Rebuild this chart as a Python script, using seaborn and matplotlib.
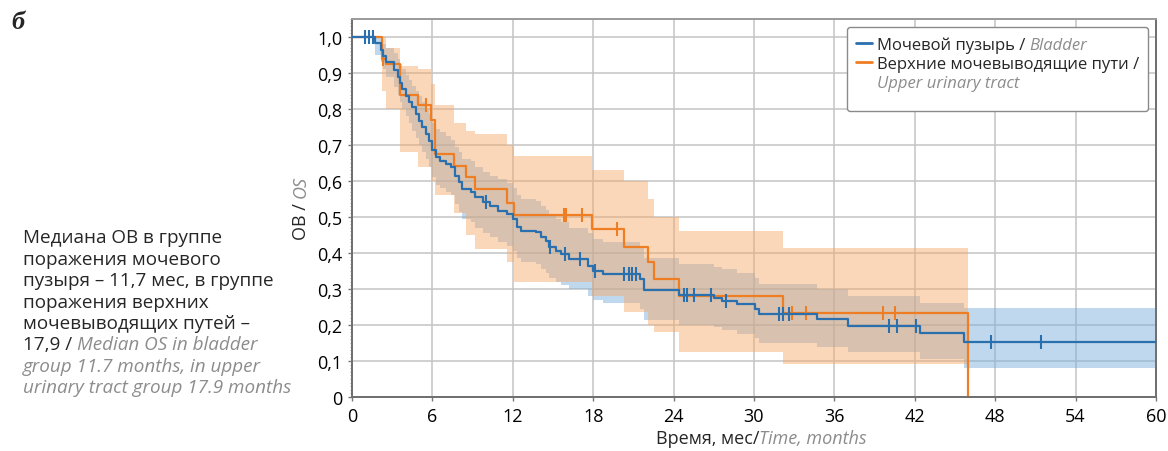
import numpy as np
import pandas as pd
import matplotlib
matplotlib.use("Agg")
import matplotlib.pyplot as plt
from matplotlib.lines import Line2D
from matplotlib.ticker import MultipleLocator
import seaborn as sns

# ---------------- data ----------------
bladder_time = [0, 1.7, 2.2, 2.3, 2.5, 3.1, 3.4, 3.55, 3.75, 4.0, 4.25, 4.5, 4.75, 5.0,
                5.25, 5.5, 5.75, 6.0, 6.25, 6.6, 7.0, 7.4, 7.7, 7.95, 8.2, 8.9, 9.2, 9.8,
                10.3, 10.9, 11.6, 12.0, 12.3, 12.6, 13.7, 14.1, 14.5, 14.7, 15.2, 15.6,
                16.2, 17.6, 18.0, 18.7, 21.5, 21.8, 24.4, 27.0, 27.6, 28.7, 30.1, 30.4,
                34.7, 37.0, 42.4, 45.7]
bladder_surv = [1.0, 0.982, 0.965, 0.948, 0.93, 0.908, 0.89, 0.872, 0.856, 0.837, 0.82,
                0.805, 0.786, 0.768, 0.749, 0.73, 0.712, 0.685, 0.667, 0.656, 0.647, 0.638,
                0.615, 0.597, 0.578, 0.569, 0.555, 0.541, 0.531, 0.518, 0.508, 0.494, 0.471,
                0.462, 0.457, 0.444, 0.434, 0.416, 0.406, 0.397, 0.383, 0.365, 0.351, 0.342,
                0.328, 0.297, 0.283, 0.276, 0.267, 0.258, 0.244, 0.23, 0.217, 0.197, 0.178,
                0.154]
bladder_lo = [1.0, 0.95, 0.93, 0.91, 0.89, 0.86, 0.84, 0.82, 0.80, 0.78, 0.76, 0.74, 0.72,
              0.70, 0.68, 0.66, 0.64, 0.61, 0.59, 0.58, 0.57, 0.56, 0.535, 0.515, 0.495,
              0.485, 0.47, 0.455, 0.445, 0.43, 0.42, 0.405, 0.385, 0.375, 0.37, 0.355, 0.345,
              0.33, 0.32, 0.31, 0.30, 0.28, 0.27, 0.26, 0.245, 0.215, 0.20, 0.195, 0.185,
              0.175, 0.165, 0.15, 0.14, 0.125, 0.105, 0.08]
bladder_hi = [1.0, 1.0, 0.99, 0.98, 0.97, 0.955, 0.94, 0.925, 0.91, 0.895, 0.88, 0.865,
              0.85, 0.835, 0.82, 0.80, 0.785, 0.76, 0.745, 0.735, 0.725, 0.715, 0.695, 0.68,
              0.66, 0.655, 0.64, 0.625, 0.615, 0.605, 0.595, 0.58, 0.56, 0.55, 0.545, 0.53,
              0.52, 0.505, 0.495, 0.485, 0.47, 0.455, 0.44, 0.43, 0.415, 0.385, 0.37, 0.36,
              0.355, 0.345, 0.33, 0.315, 0.30, 0.28, 0.26, 0.247]
bladder_censor = [1.0, 1.3, 1.6, 10.0, 14.8, 15.9, 17.0, 18.1, 20.3, 20.7, 20.9, 21.2,
                  24.8, 25.0, 25.5, 26.8, 27.9, 31.9, 32.2, 32.6, 40.1, 40.7, 42.1, 47.7, 51.4]
bladder_end = 60.0

upper_time = [0, 2.25, 2.5, 3.6, 4.9, 5.9, 6.2, 7.6, 8.5, 9.2, 11.6, 12.1, 17.9, 20.3,
              22.1, 22.5, 24.4, 32.2, 46.0]
upper_surv = [1.0, 0.94, 0.925, 0.84, 0.81, 0.77, 0.675, 0.643, 0.61, 0.578, 0.54, 0.505,
              0.467, 0.418, 0.375, 0.328, 0.281, 0.233, 0.0]
upper_lo = [1.0, 0.85, 0.80, 0.68, 0.64, 0.60, 0.56, 0.51, 0.45, 0.41, 0.375, 0.32, 0.28,
            0.235, 0.20, 0.18, 0.125, 0.092, 0.092]
upper_hi = [1.0, 1.0, 0.97, 0.92, 0.91, 0.87, 0.81, 0.76, 0.74, 0.73, 0.70, 0.67, 0.63,
            0.60, 0.55, 0.50, 0.46, 0.413, 0.413]
upper_censor = [2.3, 5.5, 15.8, 16.0, 17.2, 19.8, 32.8, 33.9, 39.6, 40.5]

x_ticks = [0, 6, 12, 18, 24, 30, 36, 42, 48, 54, 60]
y_ticks = [0.0, 0.1, 0.2, 0.3, 0.4, 0.5, 0.6, 0.7, 0.8, 0.9, 1.0]
y_tick_labels = ["0", "0,1", "0,2", "0,3", "0,4", "0,5", "0,6", "0,7", "0,8", "0,9", "1,0"]

label_bladder_ru = "Мочевой пузырь / "
label_bladder_en = "Bladder"
label_upper_ru = "Верхние мочевыводящие пути /"
label_upper_en = "Upper urinary tract"
xlabel_ru = "Время, мес/"
xlabel_en = "Time, months"
ylabel_ru = "ОВ / "
ylabel_en = "OS"
note_ru_lines = ["Медиана ОВ в группе", "поражения мочевого", "пузыря – 11,7 мес, в группе",
                 "поражения верхних", "мочевыводящих путей –"]
note_mix_ru = "17,9 / "
note_en_lines = ["Median OS in bladder", "group 11.7 months, in upper",
                 "urinary tract group 17.9 months"]
panel_label = "б"

# ---------------- style ----------------
sns.set_theme(style="white")
plt.rcParams['font.family'] = ['Open Sans', 'DejaVu Sans']

BLUE = "#2a6fae"
ORANGE = "#ee7d24"
BLUE_FILL = "#79aedb"
ORANGE_FILL = "#f7a865"
GREY_TXT = "#8c8c8c"
FS = 13
FS_LEG = 12
FS_NOTE = 13.6

W, H = 1168, 452
fig = plt.figure(figsize=(W / 100, H / 100), dpi=100)
ax_l, ax_r, ax_t, ax_b = 352, 1156, 20, 398
ax = fig.add_axes([ax_l / W, 1 - ax_b / H, (ax_r - ax_l) / W, (ax_b - ax_t) / H])


def extend(times, vals, end):
    return list(times) + [end], list(vals) + [vals[-1]]


bt, bs = extend(bladder_time, bladder_surv, bladder_end)
_, blo = extend(bladder_time, bladder_lo, bladder_end)
_, bhi = extend(bladder_time, bladder_hi, bladder_end)
bladder_df = pd.DataFrame({"time": bt, "surv": bs, "lo": blo, "hi": bhi})
upper_df = pd.DataFrame({"time": upper_time, "surv": upper_surv, "lo": upper_lo, "hi": upper_hi})

ax.fill_between(bladder_df["time"], bladder_df["lo"], bladder_df["hi"], step="post",
                color=BLUE_FILL, alpha=0.48, lw=0, zorder=1)
ax.fill_between(upper_df["time"], upper_df["lo"], upper_df["hi"], step="post",
                color=ORANGE_FILL, alpha=0.45, lw=0, zorder=1.1)

sns.lineplot(data=bladder_df, x="time", y="surv", drawstyle="steps-post", color=BLUE,
             lw=1.6, estimator=None, sort=False, ax=ax, zorder=3)
sns.lineplot(data=upper_df, x="time", y="surv", drawstyle="steps-post", color=ORANGE,
             lw=1.6, estimator=None, sort=False, ax=ax, zorder=2.5)


def step_at(times, vals, t):
    idx = np.searchsorted(np.asarray(times), np.asarray(t), side="right") - 1
    return np.asarray(vals)[idx]


ax.plot(upper_censor, step_at(upper_time, upper_surv, upper_censor), ls="none",
        marker="|", ms=10, mew=1.5, color=ORANGE, zorder=2.6)
ax.plot(bladder_censor, step_at(bladder_time, bladder_surv, bladder_censor), ls="none",
        marker="|", ms=10, mew=1.5, color=BLUE, zorder=3.1)

# axes
ax.set_xlim(0, 60)
ax.set_ylim(0, 1.05)
ax.set_xticks(x_ticks)
ax.set_xticklabels([str(v) for v in x_ticks], fontsize=FS)
ax.set_yticks(y_ticks)
ax.set_yticklabels(y_tick_labels, fontsize=FS)
ax.yaxis.set_minor_locator(MultipleLocator(0.01))
ax.grid(True, which="major", color="#c4c4c4", lw=1.1)
ax.set_axisbelow(True)
ax.tick_params(axis="both", which="major", length=3, width=1, color="#777777",
               pad=4, labelcolor="black", left=True, bottom=True)
ax.tick_params(axis="y", which="minor", length=1.5, width=0.6, color="#999999", left=True)
for side, sp in ax.spines.items():
    sp.set_color("#6e6e6e")
    sp.set_linewidth(1.4)
ax.spines["top"].set_color("#9a9a9a")
ax.set_xlabel("")
ax.set_ylabel("")

# legend
handles = [Line2D([], [], color=BLUE, lw=2), Line2D([], [], color=ORANGE, lw=2),
           Line2D([], [], color="none", lw=0)]
leg = ax.legend(handles, [label_bladder_ru, label_upper_ru, label_upper_en + "\n"],
                loc="upper right", bbox_to_anchor=((1148 - ax_l) / (ax_r - ax_l),
                                                   (ax_b - 28) / (ax_b - ax_t)),
                fontsize=FS_LEG, handlelength=1.0, handletextpad=0.25, borderpad=0.55,
                labelspacing=0.2, frameon=True, fancybox=True, framealpha=1,
                edgecolor="#8a8a8a", facecolor="white", borderaxespad=0)
leg.get_frame().set_linewidth(1.0)
leg_texts = leg.get_texts()
leg_texts[2].set_fontstyle("italic")
leg_texts[2].set_color(GREY_TXT)
leg_texts[2].set_linespacing(0.55)
ax.annotate(label_bladder_en, xy=(1, 0), xycoords=leg_texts[0], ha="left", va="bottom",
            fontsize=FS_LEG, fontstyle="italic", color=GREY_TXT, zorder=10)

# x label
fig.text(759 / W, 1 - 444 / H, xlabel_ru, ha="right", va="baseline", fontsize=FS)
fig.text(759 / W, 1 - 444 / H, xlabel_en, ha="left", va="baseline", fontsize=FS,
         fontstyle="italic", color=GREY_TXT)

# y label
yl = fig.text(301 / W, 1 - 240 / H, ylabel_ru, rotation=90, ha="center", va="bottom",
              fontsize=FS)
fig.canvas.draw()
bb = yl.get_window_extent()
fig.text((bb.x0 + bb.width / 2) / fig.bbox.width, bb.y1 / fig.bbox.height, ylabel_en,
         rotation=90, ha="center", va="bottom", fontsize=FS, fontstyle="italic",
         color=GREY_TXT)

# note on the left
base0, step = 243.5, 21.4
x0 = 23 / W
for i, line in enumerate(note_ru_lines):
    fig.text(x0, 1 - (base0 + i * step) / H, line, ha="left", va="baseline",
             fontsize=FS_NOTE)
mix = fig.text(x0, 1 - (base0 + 5 * step) / H, note_mix_ru, ha="left", va="baseline",
               fontsize=FS_NOTE)
fig.canvas.draw()
mb = mix.get_window_extent()
fig.text(mb.x1 / fig.bbox.width, 1 - (base0 + 5 * step) / H, note_en_lines[0], ha="left",
         va="baseline", fontsize=FS_NOTE, fontstyle="italic", color=GREY_TXT)
for j, line in enumerate(note_en_lines[1:]):
    fig.text(x0, 1 - (base0 + (6 + j) * step) / H, line, ha="left", va="baseline",
             fontsize=FS_NOTE, fontstyle="italic", color=GREY_TXT)

# panel label
fig.text(11 / W, 1 - 29 / H, panel_label, ha="left", va="baseline", fontsize=19,
         fontweight="bold", fontstyle="italic", family=["Liberation Serif", "DejaVu Serif"])

fig.savefig("out.png", dpi=100)
